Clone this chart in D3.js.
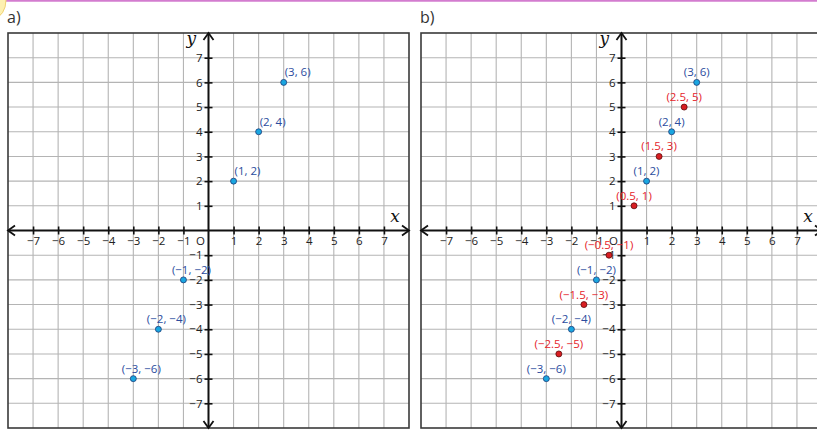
<!DOCTYPE html>
<html>
<head>
<meta charset="utf-8">
<script src="https://cdn.jsdelivr.net/npm/d3@7"></script>
<style>
  body { margin: 0; background: #fff; }
  svg { display: block; }
</style>
</head>
<body>
<svg id="chart"></svg>
<script>
// values
const tickValues = [-7, -6, -5, -4, -3, -2, -1, 1, 2, 3, 4, 5, 6, 7]
const gridExtent = [-8, 8]
const pointsDouble = [[1, 2], [2, 4], [3, 6], [-1, -2], [-2, -4], [-3, -6]]
const pointsHalfway = [[0.5, 1], [1.5, 3], [2.5, 5], [-0.5, -1], [-1.5, -3], [-2.5, -5]]
const panelNames = ['a)', 'b)']

const width = 817
const height = 433
const font = '"Open Sans", "Liberation Sans", sans-serif'

const svg = d3.select('#chart')
  .attr('width', width)
  .attr('height', height)

// pink page rule and yellow badge at top left
svg.append('line')
  .attr('x1', 0).attr('x2', width)
  .attr('y1', 0.8).attr('y2', 0.8)
  .attr('stroke', '#d37ccf')
  .attr('stroke-width', 1.8)

svg.append('ellipse')
  .attr('cx', -6).attr('cy', 0)
  .attr('rx', 12).attr('ry', 18)
  .attr('fill', '#fdf0b0')
  .attr('stroke', '#f0d070')
  .attr('stroke-width', 1)

const fmtNum = d => (d < 0 ? '\u2212' : '') + Math.abs(d)
const fmtPoint = p => `(${fmtNum(p[0])}, ${fmtNum(p[1])})`

function drawPanel(left, right, name, series, labelMode) {
  const top = 33, bottom = 428

  const x = d3.scaleLinear().domain(gridExtent).range([left, right])
  const y = d3.scaleLinear().domain(gridExtent).range([bottom, top])
  const x0 = x(0), y0 = y(0)

  const g = svg.append('g')

  g.append('text')
    .attr('x', left - 1)
    .attr('y', 23)
    .attr('font-family', font)
    .attr('font-size', 16)
    .attr('fill', '#333')
    .text(name)

  // grid
  const grid = d3.range(gridExtent[0] + 1, gridExtent[1])
  g.append('g').selectAll('line.v')
    .data(grid)
    .join('line')
      .attr('x1', d => x(d)).attr('x2', d => x(d))
      .attr('y1', top).attr('y2', bottom)
      .attr('stroke', '#b4b4b4')
      .attr('stroke-width', 1.1)
  g.append('g').selectAll('line.h')
    .data(grid)
    .join('line')
      .attr('y1', d => y(d)).attr('y2', d => y(d))
      .attr('x1', left).attr('x2', right)
      .attr('stroke', '#b4b4b4')
      .attr('stroke-width', 1.1)

  g.append('rect')
    .attr('x', left).attr('y', top)
    .attr('width', right - left).attr('height', bottom - top)
    .attr('fill', 'none')
    .attr('stroke', '#3a3a3a')
    .attr('stroke-width', 1.6)

  // axes lines with open arrowheads
  g.append('line')
    .attr('x1', left).attr('x2', right)
    .attr('y1', y0).attr('y2', y0)
    .attr('stroke', '#111').attr('stroke-width', 2)
  g.append('line')
    .attr('x1', x0).attr('x2', x0)
    .attr('y1', top).attr('y2', bottom)
    .attr('stroke', '#111').attr('stroke-width', 2)

  const arrows = [
    `M${right - 7},${y0 - 5}L${right},${y0}L${right - 7},${y0 + 5}`,
    `M${left + 7},${y0 - 5}L${left},${y0}L${left + 7},${y0 + 5}`,
    `M${x0 - 5},${top + 7}L${x0},${top}L${x0 + 5},${top + 7}`,
    `M${x0 - 5},${bottom - 7}L${x0},${bottom}L${x0 + 5},${bottom - 7}`
  ]
  g.append('g').selectAll('path')
    .data(arrows)
    .join('path')
      .attr('d', d => d)
      .attr('fill', 'none')
      .attr('stroke', '#111')
      .attr('stroke-width', 1.8)

  // ticks crossing the axes
  const xAxis = g.append('g')
    .attr('transform', `translate(0, ${y0 - 4})`)
    .call(d3.axisBottom(x).tickValues(tickValues).tickSize(8).tickPadding(2).tickFormat(fmtNum))
  const yAxis = g.append('g')
    .attr('transform', `translate(${x0 + 4}, 0)`)
    .call(d3.axisLeft(y).tickValues(tickValues).tickSize(8).tickPadding(2).tickFormat(fmtNum))

  for (const ax of [xAxis, yAxis]) {
    ax.select('.domain').remove()
    ax.selectAll('line').attr('stroke', '#111').attr('stroke-width', 1.6)
    ax.selectAll('text')
      .attr('font-family', font)
      .attr('font-size', 11.5)
      .attr('fill', '#222')
  }

  g.append('text')
    .attr('x', x0 - 8).attr('y', y0 + 14)
    .attr('text-anchor', 'middle')
    .attr('font-family', font)
    .attr('font-size', 11.5)
    .attr('fill', '#222')
    .text('O')

  g.append('text')
    .attr('x', x0 - 22).attr('y', top + 11)
    .attr('font-family', '"DejaVu Serif", "Liberation Serif", serif')
    .attr('font-style', 'italic')
    .attr('font-size', 17)
    .attr('fill', '#111')
    .text('y')

  g.append('text')
    .attr('x', x(7.25)).attr('y', y0 - 9)
    .attr('font-family', '"DejaVu Serif", "Liberation Serif", serif')
    .attr('font-style', 'italic')
    .attr('font-size', 17)
    .attr('fill', '#111')
    .text('x')

  // points and labels
  for (const s of series) {
    const sg = g.append('g')
    sg.selectAll('text')
      .data(s.data)
      .join('text')
        .attr('x', d => {
          if (labelMode === 'center') return x(d[0])
          return d[0] > 0 ? x(d[0]) + 1 : x(d[0]) + 8
        })
        .attr('y', d => y(d[1]) - 6)
        .attr('text-anchor', d => (labelMode === 'center' || d[0] < 0) ? 'middle' : 'start')
        .attr('font-family', font)
        .attr('font-size', 11.5)
        .attr('fill', s.labelColor)
        .text(fmtPoint)
    sg.selectAll('circle')
      .data(s.data)
      .join('circle')
        .attr('cx', d => x(d[0]))
        .attr('cy', d => y(d[1]))
        .attr('r', 3)
        .attr('fill', s.fill)
        .attr('stroke', s.stroke)
        .attr('stroke-width', 0.8)
  }
}

const blue = { data: pointsDouble, fill: '#1aa6e0', stroke: '#1d3b78', labelColor: '#2b4c9e' }
const red = { data: pointsHalfway, fill: '#d81e22', stroke: '#5a0a0a', labelColor: '#e5232b' }

drawPanel(8, 409, panelNames[0], [blue], 'side')
drawPanel(421, 822, panelNames[1], [blue, red], 'center')
</script>
</body>
</html>
